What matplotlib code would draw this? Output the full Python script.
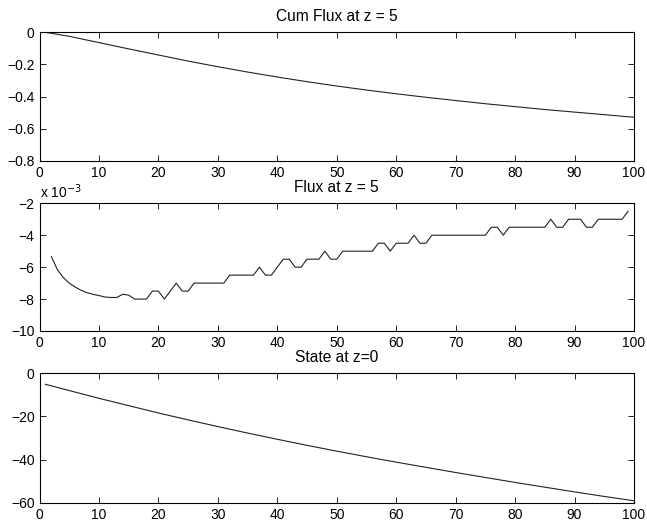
import numpy as np
import matplotlib
matplotlib.use('Agg')
import matplotlib.pyplot as plt

plt.rcParams['font.family'] = ['Liberation Sans', 'DejaVu Sans']

# cumulative flux at z = 5 (read every 5 steps)
cum_x = [1, 5, 10, 15, 20, 25, 30, 35, 40, 45, 50, 55, 60, 65, 70, 75, 80, 85, 90, 95, 100]
cum_flux = [0.0, -0.025, -0.064, -0.103, -0.141, -0.179, -0.214, -0.247, -0.278, -0.307,
            -0.334, -0.359, -0.382, -0.404, -0.424, -0.444, -0.462, -0.480, -0.496, -0.512, -0.528]

# flux at z = 5, in units of 1e-3, steps 2..99
flux_x = list(range(2, 100))
flux_e3 = [-5.34, -6.15, -6.65, -7.0, -7.25, -7.45, -7.6, -7.7, -7.78, -7.87,
           -7.9, -7.9, -7.7, -7.75, -8, -8, -8, -7.5, -7.5, -8,
           -7.5, -7, -7.5, -7.5, -7, -7, -7, -7, -7, -7,
           -6.5, -6.5, -6.5, -6.5, -6.5, -6, -6.5, -6.5, -6, -5.5,
           -5.5, -6, -6, -5.5, -5.5, -5.5, -5, -5.5, -5.5, -5,
           -5, -5, -5, -5, -5, -4.5, -4.5, -5, -4.5, -4.5,
           -4.5, -4, -4.5, -4.5, -4, -4, -4, -4, -4, -4,
           -4, -4, -4, -4, -3.5, -3.5, -4, -3.5, -3.5, -3.5,
           -3.5, -3.5, -3.5, -3.5, -3, -3.5, -3.5, -3, -3, -3,
           -3.5, -3.5, -3, -3, -3, -3, -3, -2.5]

# state at z = 0 (read every 5 steps)
state_x = [1, 5, 10, 15, 20, 25, 30, 35, 40, 45, 50, 55, 60, 65, 70, 75, 80, 85, 90, 95, 100]
state = [-5.1, -8.0, -11.6, -15.0, -18.4, -21.6, -24.7, -27.7, -30.6, -33.4, -36.1,
         -38.7, -41.2, -43.6, -46.0, -48.3, -50.6, -52.8, -55.0, -57.1, -59.1]

fig = plt.figure(figsize=(6.47, 5.21), dpi=100)
W = 647.0
H = 521.0
left = 39.5 / W
width = (634 - 39.5) / W

def make_ax(top, bottom):
    ax = fig.add_axes([left, 1 - bottom / H, width, (bottom - top) / H])
    ax.tick_params(direction='in', top=True, right=True, labelsize=10, length=4, width=0.6)
    for s in ax.spines.values():
        s.set_linewidth(0.8)
    ax.set_xlim(0, 100)
    ax.set_xticks(np.arange(0, 101, 10))
    return ax

ax1 = make_ax(32.3, 161)
ax1.plot(cum_x, cum_flux, color='#222222', lw=0.8)
ax1.set_ylim(-0.8, 0)
ax1.set_yticks([-0.8, -0.6, -0.4, -0.2, 0])
ax1.set_yticklabels(['\u22120.8', '\u22120.6', '\u22120.4', '\u22120.2', '0'])
ax1.set_title('Cum Flux at z = 5', fontsize=11.2, pad=7.8)

ax2 = make_ax(203.3, 331)
ax2.plot(flux_x, flux_e3, color='#222222', lw=0.8)
ax2.set_ylim(-10, -2)
ax2.set_yticks([-10, -8, -6, -4, -2])
ax2.set_title('Flux at z = 5', fontsize=11.2, pad=7.8)
ax2.text(0, 1.02, r'x 10$^{-3}$', transform=ax2.transAxes, fontsize=10, ha='left', va='bottom')

ax3 = make_ax(373.3, 502.7)
ax3.plot(state_x, state, color='#222222', lw=0.8)
ax3.set_ylim(-60, 0)
ax3.set_yticks([-60, -40, -20, 0])
ax3.set_title('State at z=0', fontsize=11.2, pad=7.8)

fig.savefig('out.png', dpi=100)
